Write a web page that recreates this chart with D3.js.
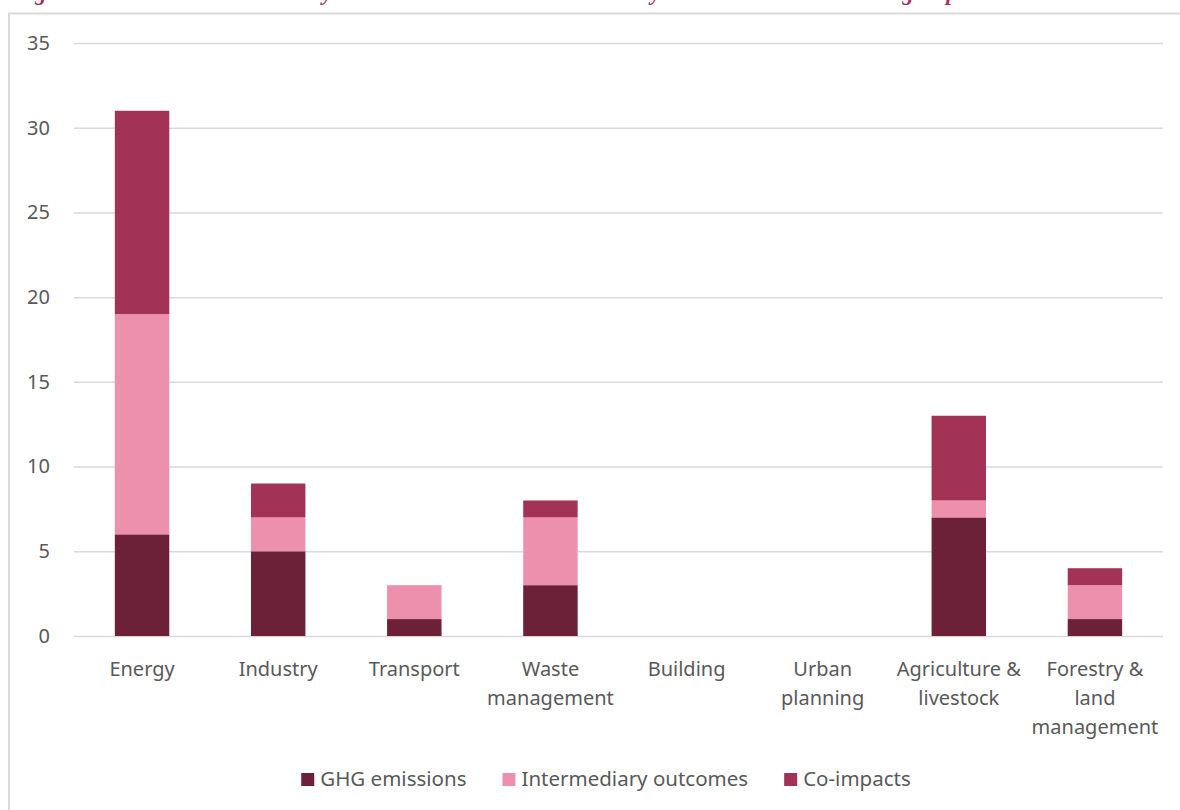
<!DOCTYPE html>
<html>
<head>
<meta charset="utf-8">
<script src="https://cdn.jsdelivr.net/npm/d3@7"></script>
<style>
  body { margin: 0; background: #fff; }
  text { font-family: "Noto Sans", sans-serif; }
</style>
</head>
<body>
<div id="chart"></div>
<script>
// data
var categories = ["Energy", "Industry", "Transport", "Waste management", "Building",
                  "Urban planning", "Agriculture & livestock", "Forestry & land management"];
var categoryLines = [["Energy"], ["Industry"], ["Transport"], ["Waste", "management"], ["Building"],
                     ["Urban", "planning"], ["Agriculture &", "livestock"], ["Forestry &", "land", "management"]];
var seriesNames = ["GHG emissions", "Intermediary outcomes", "Co-impacts"];
var ghgEmissions = [6, 5, 1, 3, 0, 0, 7, 1];
var intermediaryOutcomes = [13, 2, 2, 4, 0, 0, 1, 2];
var coImpacts = [12, 2, 0, 1, 0, 0, 5, 1];
var yTicks = [0, 5, 10, 15, 20, 25, 30, 35];
var seriesColors = ["#6D2139", "#EC90AE", "#A33257"];
var titleText = "Figure 5: Total outcome counts by sector and outcome area in a study across the three outcome groups";

var w = 1180;
var h = 810;
var plotLeft = 74, plotRight = 1163, plotTop = 43, plotBottom = 636;

var svg = d3.select("#chart")
            .append("svg")
            .attr("width", w)
            .attr("height", h);

svg.append("rect")
   .attr("width", w)
   .attr("height", h)
   .attr("fill", "#fff");

// caption sits above the frame, only its descenders show
svg.append("text")
   .attr("x", 14)
   .attr("y", -0.5)
   .style("font-family", "'Liberation Serif', serif")
   .style("font-style", "italic")
   .style("font-weight", "bold")
   .style("font-size", "22.5px")
   .attr("fill", "#A3305A")
   .text(titleText);

// chart frame
svg.append("rect")
   .attr("x", 9)
   .attr("y", 13.5)
   .attr("width", 1200)
   .attr("height", 840)
   .attr("fill", "#fff")
   .attr("stroke", "#D9D9D9")
   .attr("stroke-width", 2);

var rows = categories.map(function(c, i){
  return {cat: c, "GHG emissions": ghgEmissions[i],
          "Intermediary outcomes": intermediaryOutcomes[i], "Co-impacts": coImpacts[i]};
});

var stacked = d3.stack().keys(seriesNames)(rows);

var x = d3.scaleBand()
          .domain(categories)
          .range([plotLeft, plotRight])
          .paddingInner(0.6)
          .paddingOuter(0.3);

var y = d3.scaleLinear()
          .domain([0, 35])
          .range([plotBottom, plotTop]);

var color = d3.scaleOrdinal().domain(seriesNames).range(seriesColors);

// gridlines + y labels
var yAxis = svg.append("g")
               .attr("transform", "translate(" + plotLeft + ",0)")
               .call(d3.axisLeft(y)
                       .tickValues(yTicks)
                       .tickSize(-(plotRight - plotLeft))
                       .tickPadding(24));
yAxis.select(".domain").remove();
yAxis.selectAll(".tick line")
     .attr("stroke", "#D9D9D9")
     .attr("stroke-width", 1.5);
yAxis.selectAll(".tick text")
     .style("font-size", "20px")
     .style("font-family", "'Noto Sans', sans-serif")
     .attr("fill", "#595959");

// bars
svg.append("g")
   .selectAll("g")
   .data(stacked)
   .enter()
   .append("g")
   .attr("fill", function(d){ return color(d.key); })
   .selectAll("rect")
   .data(function(d){ return d; })
   .enter()
   .append("rect")
   .attr("x", function(d){ return x(d.data.cat); })
   .attr("y", function(d){ return y(d[1]); })
   .attr("width", x.bandwidth())
   .attr("height", function(d){ return y(d[0]) - y(d[1]); });

// category labels (multi-line)
var labels = svg.append("g")
                .selectAll("text")
                .data(categories)
                .enter()
                .append("text")
                .attr("text-anchor", "middle")
                .attr("fill", "#595959")
                .style("font-size", "20px");
labels.each(function(c, i){
  var t = d3.select(this);
  categoryLines[i].forEach(function(line, j){
    t.append("tspan")
     .attr("x", x(c) + x.bandwidth() / 2)
     .attr("y", 676 + j * 29)
     .text(line);
  });
});

// legend
var legend = svg.append("g");
var items = legend.selectAll("g")
                  .data(seriesNames)
                  .enter()
                  .append("g");
items.append("rect")
     .attr("width", 13)
     .attr("height", 13)
     .attr("y", 773)
     .attr("fill", function(d){ return color(d); });
items.append("text")
     .attr("x", 19)
     .attr("y", 786)
     .attr("fill", "#595959")
     .style("font-size", "20.5px")
     .text(function(d){ return d; });

var offsets = [];
var total = 0;
items.each(function(d, i){
  var iw = 19 + d3.select(this).select("text").node().getComputedTextLength();
  offsets.push(total);
  total += iw + (i < seriesNames.length - 1 ? 36 : 0);
});
var start = 606 - total / 2;
items.attr("transform", function(d, i){ return "translate(" + (start + offsets[i]) + ",0)"; });
</script>
</body>
</html>
